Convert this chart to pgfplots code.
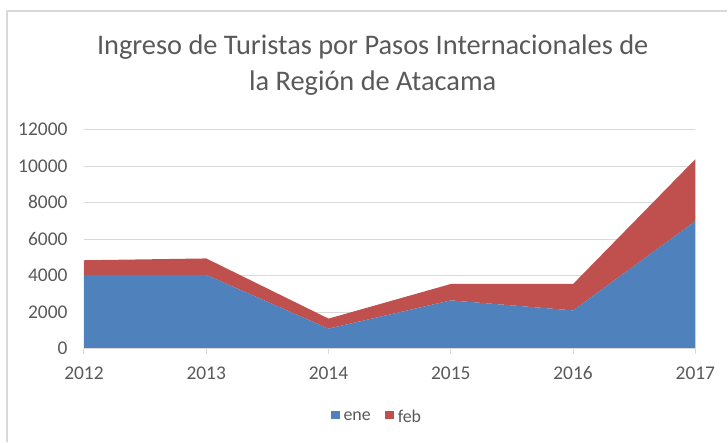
\documentclass[border=0pt]{standalone}
\usepackage{pgfplots}
\pgfplotsset{compat=1.18}
\usepackage{fontspec}
\setmainfont{Carlito}
\definecolor{enec}{HTML}{4F81BD}
\definecolor{febc}{HTML}{C0504D}
\definecolor{txt}{HTML}{595959}
\definecolor{gridc}{HTML}{D9D9D9}
\pgfplotsset{chartbox/.style={at={(84bp,93bp)}, anchor=south west, scale only axis,
  width=612bp, height=219bp, scaled ticks=false,
  xmin=2012, xmax=2017, ymin=0, ymax=12000,
  xtick={2012,...,2017}, ytick={0,2000,...,12000}}}
\begin{document}
\begin{tikzpicture}[x=1bp,y=1bp]
\path (0,0) (728,442);
\draw[gridc, line width=1.2bp] (7,0) -- (7,431) -- (728,431);
\node[txt, font=\fontsize{28.5}{36}\selectfont, align=center] at (373,377) {Ingreso de Turistas por Pasos Internacionales de\\la Región de Atacama};
% grid only, drawn first so the areas cover it
\begin{axis}[chartbox, ymajorgrids, grid style={gridc, line width=1bp},
  axis line style={draw=none}, xticklabels={}, yticklabels={}, tick style={draw=none}]
\end{axis}
\begin{axis}[chartbox,
  xticklabel style={/pgf/number format/1000 sep={}},
  yticklabel style={/pgf/number format/1000 sep={}, yshift=-1.5bp},
  /pgf/number format/assume math mode=true,
  typeset ticklabels with strut,
  tick label style={font=\fontsize{19.5}{22}\selectfont, text=txt},
  axis x line*=bottom, axis y line*=left,
  x axis line style={gridc, line width=1bp, -},
  y axis line style={draw=none},
  xtick style={gridc, line width=1bp}, ytick style={draw=none},
  tick align=outside, major tick length=5bp,
  xticklabel shift=7bp, yticklabel shift=8bp,
  stack plots=y, area style,
  legend columns=2,
  legend style={at={(0.479,-0.31)}, anchor=center, draw=none, fill=none,
    font=\fontsize{18}{20}\selectfont, text=txt,
    /tikz/every even column/.append style={column sep=12bp}},
  legend image code/.code={\fill[#1] (0bp,-2.5bp) rectangle (9bp,6bp);},
  legend cell align=left,
]
\addplot[fill=enec, draw=none] coordinates {(2012,4050) (2013,4050) (2014,1100) (2015,2650) (2016,2100) (2017,7000)} \closedcycle;
\addlegendentry{\hspace{2bp}ene}
\addplot[fill=febc, draw=none] coordinates {(2012,800) (2013,900) (2014,550) (2015,900) (2016,1450) (2017,3400)} \closedcycle;
\addlegendentry{\hspace{2bp}feb}
\end{axis}
\end{tikzpicture}
\end{document}
